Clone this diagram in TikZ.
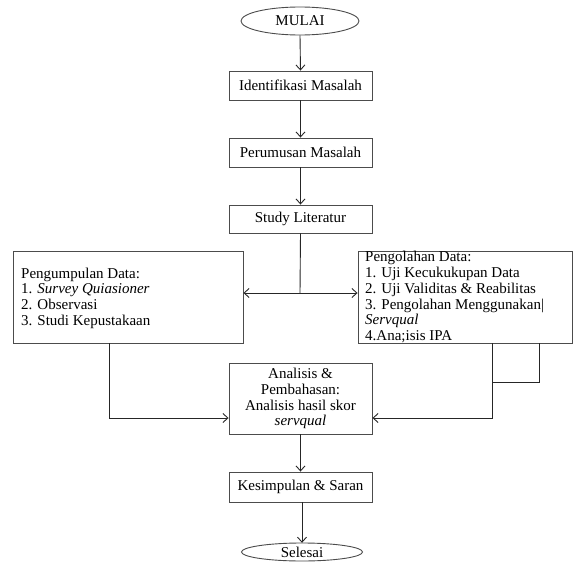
\documentclass[tikz,border=0pt]{standalone}
\usepackage{fontspec}
\setmainfont{Liberation Serif}
\usetikzlibrary{arrows.meta,shapes.geometric,positioning}
\begin{document}
\begin{tikzpicture}[x=1pt,y=-1pt,
  every node/.style={font=\fontsize{15}{15.8}\selectfont},
  boxline/.style={draw=black!70,line width=0.9pt},
  procbox/.style={boxline,rectangle,minimum width=143pt,inner sep=0pt,align=center},
  termin/.style={boxline,ellipse,minimum width=118pt,minimum height=28pt,inner sep=0pt},
  conn/.style={line width=0.9pt,draw=black!85},
  arr/.style={conn,-{Straight Barb[length=5pt,width=9pt]}},
  txt/.style={inner sep=0pt,align=left,anchor=north west}
]
\useasboundingbox (0,0) rectangle (573,562);
\fill[white] (0,0) rectangle (573,562);

\node[termin] (mulai) at (300,21) {MULAI};
\node[procbox,minimum height=29pt] (idm) at (300.5,85.5) {Identifikasi Masalah};
\node[procbox,minimum height=29pt] (rum) at (300.5,152.5) {Perumusan Masalah};
\node[procbox,minimum height=28pt] (lit) at (300.5,219) {Study Literatur};

\node[boxline,rectangle,minimum width=230pt,minimum height=92pt,inner sep=0pt] (kumpul) at (128,297) {};
\node[txt] (kumpultxt) at (21,267.5) {Pengumpulan Data:\\1. \textit{Survey Quiasioner}\\2. Observasi\\3. Studi Kepustakaan};

\node[boxline,rectangle,minimum width=214.5pt,minimum height=92pt,inner sep=0pt] (olah) at (465.25,297) {};
\node[txt] (olahtxt) at (365,251) {Pengolahan Data:\\1. Uji Kecukukupan Data\\2. Uji Validitas \& Reabilitas\\3. Pengolahan Menggunakan|\\\textit{Servqual}\\4.Ana;isis IPA};

\node[procbox,minimum height=71pt] (anl) at (300.5,398.5) {Analisis \&\\Pembahasan:\\Analisis hasil skor\\\textit{servqual}};
\node[procbox,minimum height=30pt] (kes) at (300.5,487) {Kesimpulan \& Saran};
\node[inner sep=0pt,minimum width=121pt,minimum height=18pt] (sel) at (302,552) {Selesai};
\draw[boxline] (sel.center) ellipse [x radius=60.5pt, y radius=9pt];

\coordinate (jn) at (300,293);
\coordinate (lk) at (109,418);
\coordinate (rk) at (492,418);
\coordinate (ra) at (539,382);
\coordinate (rb) at (492,382);

\draw[arr] (mulai.south) -- (idm.north);
\draw[arr] (idm.south) -- (rum.north);
\draw[arr] (rum.south) -- (lit.north);
\draw[conn] (lit.south) -- (jn);
\draw[arr] (jn) -- (kumpul.east |- jn);
\draw[arr] (jn) -- (olah.west |- jn);
\draw[arr] (kumpul.south -| lk) -- (lk) -- (anl.west |- lk);
\draw[arr] (olah.south -| rk) -- (rk) -- (anl.east |- rk);
\draw[conn] (olah.south -| ra) -- (ra) -- (rb);
\draw[arr] (anl.south) -- (kes.north);
\draw[arr] (kes.south -| sel.north) -- (sel.north);
\end{tikzpicture}
\end{document}
